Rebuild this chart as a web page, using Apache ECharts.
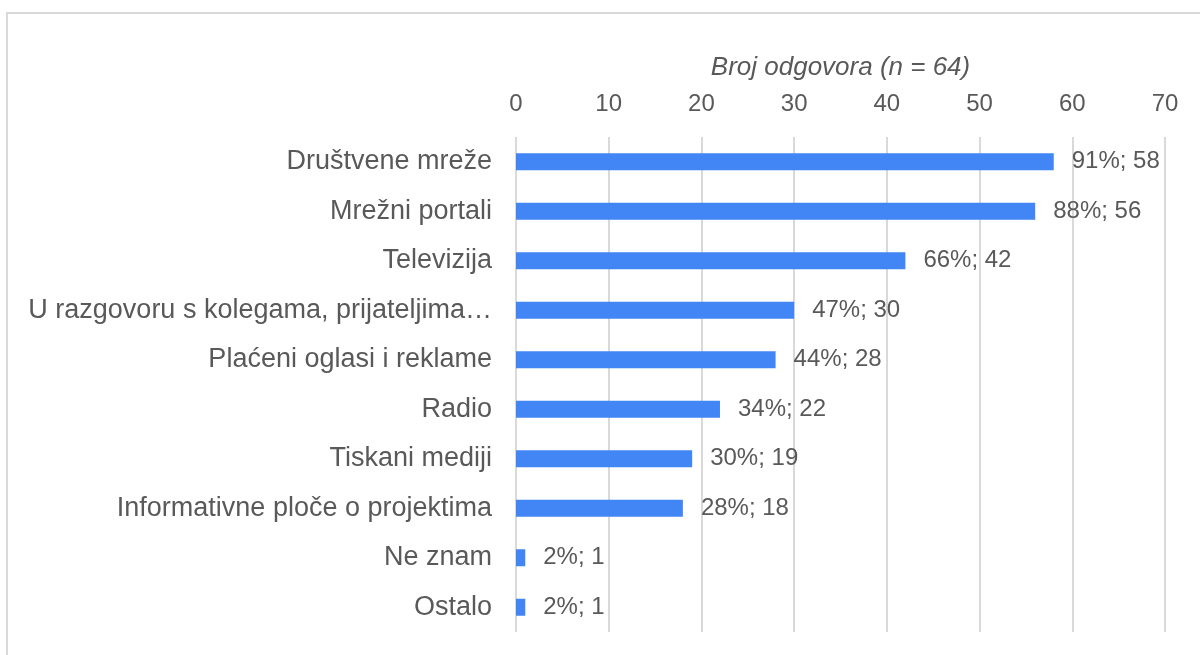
<!DOCTYPE html>
<html>
<head>
<meta charset="utf-8">
<script src="https://cdn.jsdelivr.net/npm/echarts@6/dist/echarts.min.js"></script>
<style>
  html, body { margin: 0; padding: 0; background: #fff; }
  #frame {
    position: absolute; left: 6px; top: 12px; width: 1300px; height: 700px;
    border-top: 2px solid #d9d9d9; border-left: 2px solid #d9d9d9;
  }
  #main { position: absolute; left: 0; top: 0; width: 1200px; height: 655px; }
</style>
</head>
<body>
<div id="frame"></div>
<div id="main"></div>
<script>
// kategorije odozgo prema dolje
const categories = [
  "Društvene mreže",
  "Mrežni portali",
  "Televizija",
  "U razgovoru s kolegama, prijateljima…",
  "Plaćeni oglasi i reklame",
  "Radio",
  "Tiskani mediji",
  "Informativne ploče o projektima",
  "Ne znam",
  "Ostalo"
];
const counts = [58, 56, 42, 30, 28, 22, 19, 18, 1, 1];
const percents = [91, 88, 66, 47, 44, 34, 30, 28, 2, 2];
const xTicks = { min: 0, max: 70, interval: 10 };

let myChart = echarts.init(document.getElementById("main"));
myChart.setOption({
  animation: false,
  textStyle: { fontFamily: "Liberation Sans, Arial, sans-serif" },
  grid: {
    left: 516,
    right: 35,
    top: 137,
    bottom: 23
  },
  xAxis: {
    type: "value",
    position: "top",
    min: xTicks.min,
    max: xTicks.max,
    interval: xTicks.interval,
    name: "Broj odgovora (n = 64)",
    nameLocation: "middle",
    nameGap: 56,
    nameTextStyle: {
      color: "#595959",
      fontSize: 26,
      fontStyle: "italic"
    },
    axisLine: { show: false },
    axisTick: { show: false },
    axisLabel: { color: "#595959", fontSize: 24, margin: 21 },
    splitLine: { lineStyle: { color: "#d9d9d9", width: 2 } }
  },
  yAxis: {
    type: "category",
    inverse: true,
    data: categories,
    axisLine: { show: false },
    axisTick: { show: false },
    axisLabel: { color: "#595959", fontSize: 27, margin: 24 }
  },
  series: [
    {
      type: "bar",
      data: counts,
      barWidth: 17,
      itemStyle: { color: "#4285f4" },
      label: {
        show: true,
        position: "right",
        distance: 18,
        color: "#595959",
        fontSize: 24,
        formatter: (p) => percents[p.dataIndex] + "%; " + p.value
      }
    }
  ]
});
</script>
</body>
</html>
